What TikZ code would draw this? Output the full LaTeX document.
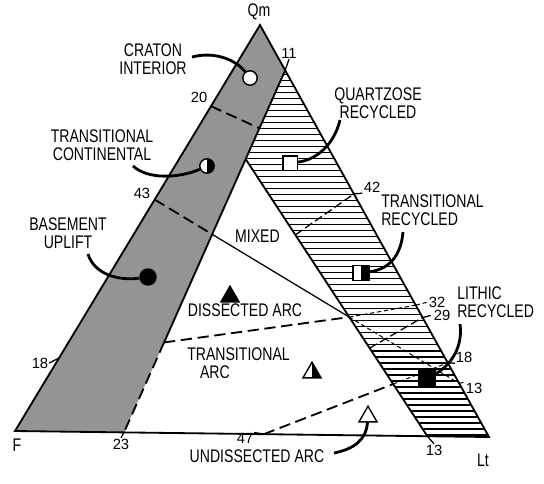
\documentclass[tikz,border=0pt]{standalone}
\usepackage{fontspec}
\setmainfont{Liberation Sans}[FakeStretch=0.77]
\newfontfamily\numfont{Liberation Sans}
\usetikzlibrary{arrows.meta, positioning, calc, patterns.meta, shapes.geometric}

\begin{document}
\begin{tikzpicture}[
    x=0.025cm, y=-0.025cm,
    every node/.style={inner sep=0pt},
    field/.style={font=\fontsize{13}{13}\selectfont, align=center},
    apex/.style={font=\fontsize{13}{13}\selectfont},
    num/.style={font=\numfont\fontsize{10.5}{10.5}\selectfont, inner sep=0.5pt},
    outline/.style={line width=1.3pt, line join=miter},
    bound/.style={line width=1.3pt, dash pattern=on 8pt off 4pt},
    divide/.style={line width=0.9pt},
    hatchdash/.style={line width=0.7pt, dash pattern=on 3pt off 2pt},
    hatchlong/.style={line width=0.9pt, dash pattern=on 6pt off 2.5pt},
    leader/.style={line width=2pt},
    stipple/.style={fill=black!42},
    hatch/.style={pattern={Lines[angle=0, distance=1.5mm, line width=0.75pt]}},
    symbol/.style={draw, line width=1pt, fill=white},
    half/.style={path picture={\fill[black] (path picture bounding box.north) rectangle (path picture bounding box.south east);}},
    trisym/.style={regular polygon, regular polygon sides=3, minimum size=5.2mm}
]
\path[use as bounding box, fill=white] (0,0) rectangle (544,483);

% ============ CORNERS AND EDGE POINTS ============
\coordinate (F) at (15,431);
\coordinate (Qm) at (260,25);
\coordinate (Lt) at (489,437);

\coordinate (L20) at ($(Qm)!0.20!(F)$);
\coordinate (L43) at ($(Qm)!0.43!(F)$);
\coordinate (L18) at ($(F)!0.18!(Qm)$);
\coordinate (P11) at ($(Qm)!0.11!(Lt)$);
\coordinate (R42) at ($(Qm)!0.41!(Lt)$);
\coordinate (R32) at ($(Lt)!0.32!(Qm)$);
\coordinate (R29) at ($(Lt)!0.29!(Qm)$);
\coordinate (R18) at ($(Lt)!0.18!(Qm)$);
\coordinate (R13) at ($(Lt)!0.13!(Qm)$);
\coordinate (B23) at ($(F)!0.23!(Lt)$);
\coordinate (B47) at ($(Lt)!0.475!(F)$);
\coordinate (B13) at ($(Lt)!0.13!(F)$);

% inner crossings
\coordinate (X) at (intersection of P11--B23 and L20--B13);
\coordinate (S20) at ($(P11)!0.16!(B23)$);
\coordinate (S43) at (intersection of P11--B23 and L43--R13);
\coordinate (S32) at (intersection of P11--B23 and L18--R32);
\coordinate (C) at (intersection of L20--B13 and L43--R13);
\coordinate (H47) at (intersection of L20--B13 and B47--R18);
\coordinate (H29) at ($(L20)!0.733!(B13)$);
\coordinate (H42) at ($(L20)!0.39!(B13)$);

% ============ FIELDS ============
\fill[stipple] (F) -- (Qm) -- (P11) -- (B23) -- cycle;
\fill[hatch] (P11) -- (Lt) -- (B13) -- (X) -- cycle;

% field boundaries
\draw[outline] (P11) -- (S32);
\draw[bound] (S32) -- (B23);
\draw[outline] (X) -- (B13);
\draw[bound] (L20) -- (S20);
\draw[bound] (L43) -- (S43);
\draw[divide] (S43) -- (C);
\draw[bound] (S32) -- (C);
\draw[bound] (B47) -- (H47);

% lines through the recycled band
\draw[hatchdash] (C) -- (R13);
\draw[hatchdash] (C) -- (R32);
\draw[hatchdash] (H47) -- (R18);
\draw[hatchlong] (H29) -- (R29);
\draw[hatchlong] (H42) -- (R42);

\draw[outline] (F) -- (Qm) -- (Lt) -- cycle;

% ============ SYMBOLS ============
\node[symbol, circle, minimum size=3.6mm] (craton) at (250,78) {};
\node[symbol, circle, minimum size=3.6mm, half] (trcont) at (207,166) {};
\node[symbol, circle, fill=black, minimum size=4mm] (basement) at (148,277) {};
\node[symbol, rectangle, minimum size=3.6mm] (quartz) at (290,163) {};
\node[symbol, rectangle, minimum width=4mm, minimum height=3.8mm, half] (trrec) at (361,273) {};
\node[symbol, rectangle, fill=black, minimum size=4.2mm] (lithic) at (427,379) {};
\node[symbol, trisym, fill=black] (dissect) at (230,296.6) {};
\node[symbol, trisym, half] (trarc) at (312,372.6) {};
\node[symbol, trisym] (undiss) at (368,416.6) {};

% ============ LABELS ============
\node[apex] (lQm) at (259,12) {Qm};
\node[apex] (lF) at (17,445) {F};
\node[apex] (lLt) at (483,460) {Lt};

\node[field] (lcraton) at (153,59) {CRATON\\INTERIOR};
\node[field] (ltrcont) at (102,145) {TRANSITIONAL\\CONTINENTAL};
\node[field] (lbasement) at (68,233) {BASEMENT\\UPLIFT};
\node[field] (lquartz) at (378,103) {QUARTZOSE\\RECYCLED};
\node[field, align=left, anchor=west] (ltrrec) at (381,210) {TRANSITIONAL\\RECYCLED};
\node[field, align=left, anchor=west] (llithic) at (457,302.5) {LITHIC\\RECYCLED};
\node[field] (lmixed) at (257.5,236.5) {MIXED};
\node[field] (ldissect) at (245,310) {DISSECTED ARC};
\node[field, align=left, anchor=north west] (ltrarc) at (187,347) {TRANSITIONAL\\\hspace*{3.2mm}ARC};
\node[field] (lundiss) at (257,456) {UNDISSECTED ARC};

% edge values
\node[num] (t11) at (289,53) {11};
\node[num] (t20) at (199,97) {20};
\node[num] (t43) at (142,193) {43};
\node[num] (t18l) at (40,363) {18};
\node[num] (t23) at (121,444) {23};
\node[num] (t47) at (245,438.5) {47};
\node[num] (t13b) at (434,450) {13};
\node[num] (t13r) at (474,388) {13};
\node[num] (t18r) at (464,357) {18};
\node[num] (t32) at (437,302) {32};
\node[num] (t29) at (442,315) {29};
\node[num] (t42) at (372,187) {42};

\draw[divide] (P11) -- (t11.south);
\draw[divide] (L18) -- (t18l.east);
\draw[divide] (B23) -- (t23.north);
\draw[divide] (B47) -- (t47.north east);
\draw[divide] (B13) -- (t13b.north);
\draw[hatchdash] (R13) -- (t13r.north west);
\draw[divide] (R18) -- (t18r.south west);
\draw[hatchdash] (R32) -- (t32.west);
\draw[hatchlong] (R29) -- (t29.west);
\draw[hatchlong] (R42) -- (t42.south west);

% ============ LEADERS ============
\coordinate (kCraton) at (192,57);
\coordinate (kTrCont) at (133,166);
\coordinate (kBase) at (88,254);
\coordinate (kQuartz) at (340,120);
\coordinate (kTrRec) at (403,232);
\coordinate (kLithic) at (460,324);
\coordinate (kUndiss) at (334,453);

\draw[leader] (kCraton) .. controls (215,51) and (236,60) .. (craton);
\draw[leader] (kTrCont) .. controls (148,180) and (180,178) .. (trcont);
\draw[leader] (kBase) .. controls (94,274) and (118,281) .. (basement);
\draw[leader] (kQuartz) .. controls (334,145) and (316,160) .. (quartz);
\draw[leader] (kTrRec) .. controls (401,255) and (390,269) .. (trrec);
\draw[leader] (kLithic) .. controls (463,346) and (452,364) .. (lithic);
\draw[leader] (kUndiss) .. controls (354,449) and (366,440) .. (undiss);

\end{tikzpicture}
\end{document}
